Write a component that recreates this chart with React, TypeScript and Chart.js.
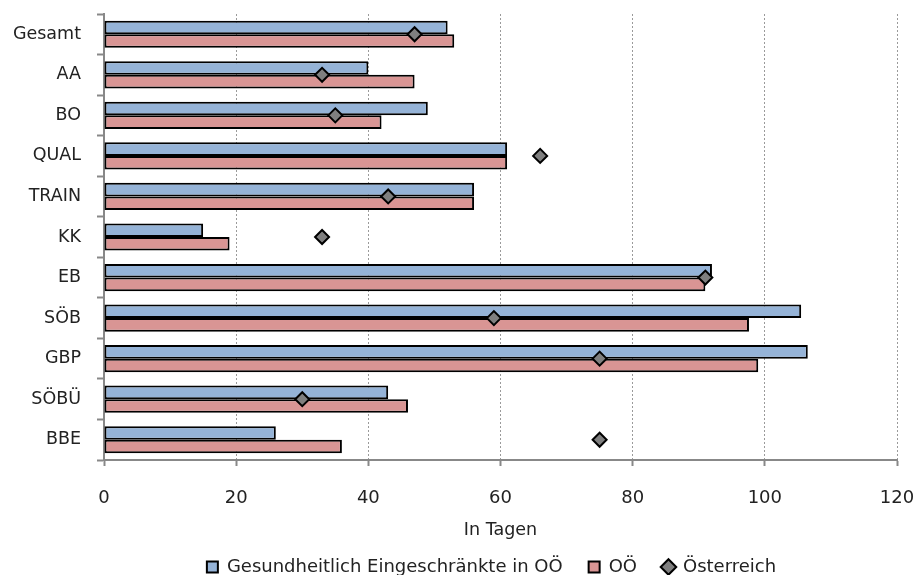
import React, { useEffect, useRef } from "react";
import { Chart, registerables } from "chart.js";

Chart.register(...registerables);

const categories = ["Gesamt", "AA", "BO", "QUAL", "TRAIN", "KK", "EB", "SÖB", "GBP", "SÖBÜ", "BBE"];
const gesundheitlich = [52, 40, 49, 61, 56, 15, 92, 105.5, 106.5, 43, 26];
const ooe = [53, 47, 42, 61, 56, 19, 91, 97.6, 99, 46, 36];
const oesterreich = [47, 33, 35, 66, 43, 33, 91, 59, 75, 30, 75];
const seriesNames = ["Gesundheitlich Eingeschränkte in OÖ", "OÖ", "Österreich"];
const xTicks = { min: 0, max: 120, step: 20 };
const xTitle = "In Tagen";

const FONT = "'DejaVu Sans', sans-serif";
const TEXT = "#222";

const legendShift = {
  id: "legendShift",
  afterLayout(chart: any) {
    if (chart.legend) {
      chart.legend.left = 86;
      chart.legend.right = 897;
    }
  },
};

export default function App() {
  const ref = useRef<HTMLCanvasElement>(null);
  useEffect(() => {
    if (!ref.current) return;
    const chart = new Chart(ref.current, {
      type: "bar",
      data: {
        labels: categories,
        datasets: [
          {
            label: seriesNames[0],
            data: gesundheitlich,
            backgroundColor: "#95B3D7",
            borderColor: "#000",
            borderWidth: 2,
            borderSkipped: false,
            pointStyle: "rect",
            categoryPercentage: 0.67,
            barPercentage: 1,
          } as any,
          {
            label: seriesNames[1],
            data: ooe,
            backgroundColor: "#D99594",
            borderColor: "#000",
            borderWidth: 2,
            borderSkipped: false,
            pointStyle: "rect",
            categoryPercentage: 0.67,
            barPercentage: 1,
          } as any,
          {
            type: "line",
            label: seriesNames[2],
            data: oesterreich,
            showLine: false,
            pointStyle: "rectRot",
            pointRadius: 7,
            pointBackgroundColor: "#7F7F7F",
            pointBorderColor: "#000",
            pointBorderWidth: 2,
            backgroundColor: "#7F7F7F",
            borderColor: "#000",
            borderWidth: 2,
            order: -1,
          } as any,
        ],
      },
      plugins: [legendShift],
      options: {
        indexAxis: "y",
        animation: false,
        responsive: false,
        maintainAspectRatio: false,
        layout: { padding: { top: 14, right: 18, left: 0, bottom: -11 } },
        plugins: {
          tooltip: { enabled: false },
          legend: {
            position: "bottom",
            labels: {
              usePointStyle: true,
              boxWidth: 11,
              boxHeight: 11,
              padding: 26,
              color: TEXT,
              font: { family: FONT, size: 18 },
              sort: (a: any, b: any) => a.datasetIndex - b.datasetIndex,
            },
          },
        },
        scales: {
          x: {
            type: "linear",
            min: xTicks.min,
            max: xTicks.max,
            ticks: {
              stepSize: xTicks.step,
              color: TEXT,
              font: { family: FONT, size: 18 },
              padding: 22,
            },
            grid: {
              color: "#9a9a9a",
              lineWidth: 1,
              tickColor: "#888",
              tickLength: 6,
              tickWidth: 2,
            },
            border: { color: "#888", width: 2, dash: [2, 2] },
            title: {
              display: true,
              text: xTitle,
              color: TEXT,
              font: { family: FONT, size: 17.5 },
              padding: { top: 10, bottom: -8.5 },
            },
            afterFit: (scale: any) => {
              scale.height = 72;
              scale.paddingLeft = 0;
              scale.paddingRight = 0;
            },
          },
          y: {
            type: "category",
            ticks: {
              color: TEXT,
              font: { family: FONT, size: 17.5 },
              padding: 16,
            },
            grid: {
              offset: true,
              drawOnChartArea: false,
              color: "#888",
              tickColor: "#888",
              tickLength: 7,
              tickWidth: 2,
            },
            border: { color: "#888", width: 2 },
            afterFit: (scale: any) => {
              scale.width = 104;
              scale.paddingTop = 0;
              scale.paddingBottom = 0;
            },
          },
        },
      } as any,
    });
    return () => chart.destroy();
  }, []);
  return (
    <div style={{ position: "absolute", left: 0, top: 0, width: 915, height: 575, background: "#fff" }}>
      <canvas ref={ref} width={915} height={575} style={{ width: 915, height: 575 }} />
    </div>
  );
}
